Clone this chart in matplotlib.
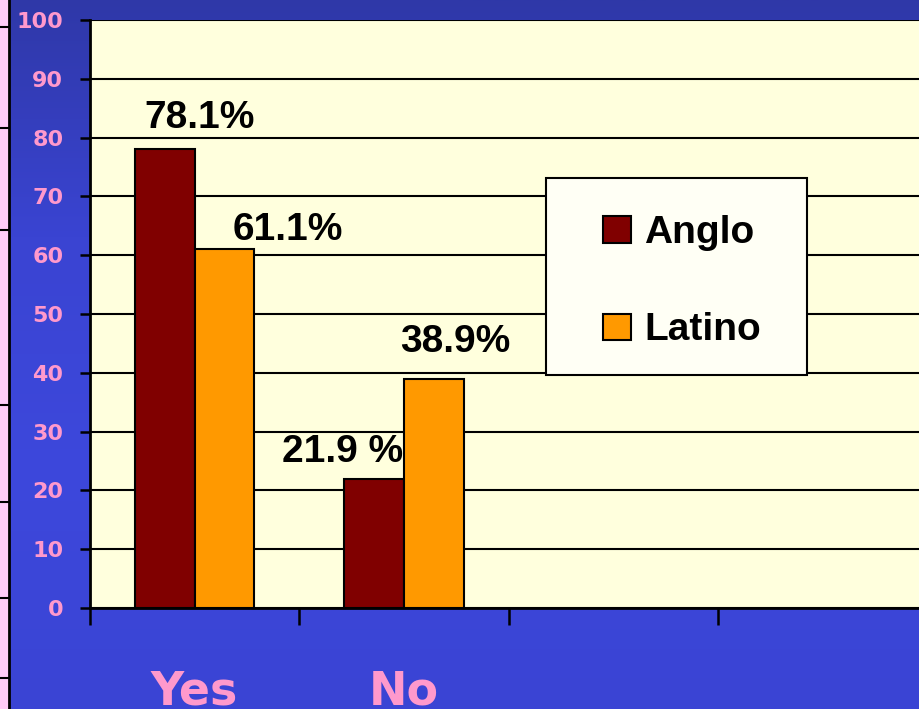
import numpy as np
import matplotlib
matplotlib.use("Agg")
import matplotlib.pyplot as plt
from matplotlib.colors import LinearSegmentedColormap

categories = ["Yes", "No", "", ""]
anglo = [78.1, 21.9, None, None]
latino = [61.1, 38.9, None, None]
anglo_labels = ["78.1%", "21.9 %"]
latino_labels = ["61.1%", "38.9%"]
yticks = list(range(0, 101, 10))

pink = "#FF99CC"
c_anglo = "#800000"
c_latino = "#FF9900"

fig = plt.figure(figsize=(9.19, 7.09), dpi=100)

# blue backdrop
bg = fig.add_axes([0, 0, 1, 1], zorder=-10)
grad = np.linspace(0, 1, 256).reshape(-1, 1)
cmap = LinearSegmentedColormap.from_list("bg", ["#2F38A8", "#3A44D2", "#3D48DC", "#3A44D4"])
bg.imshow(grad, aspect="auto", cmap=cmap, extent=[0, 1, 0, 1], origin="upper")
bg.set_axis_off()

# pink strip at left edge (piece of a neighbouring slide)
fig.patches.append(plt.Rectangle((0, 0), 9 / 919, 1, transform=fig.transFigure,
                                 facecolor="#FFCCF8", edgecolor="none", zorder=-5))
fig.lines.append(plt.Line2D([9 / 919, 9 / 919], [0, 1], transform=fig.transFigure,
                            color="black", lw=2))
for py in [27, 128, 230, 405, 502, 598, 678]:
    yy = 1 - py / 709
    fig.lines.append(plt.Line2D([0, 9 / 919], [yy, yy], transform=fig.transFigure,
                                color="black", lw=1.5))

ax = fig.add_axes([90 / 919, 101 / 709, 837 / 919, 588 / 709])
ax.set_facecolor("#FFFFDD")

x = np.arange(len(categories))
w = 0.285
n_real = 2
b1 = ax.bar(x[:n_real] - w / 2, anglo[:n_real], w, color=c_anglo, edgecolor="black",
            lw=1.5, label="Anglo", zorder=3)
b2 = ax.bar(x[:n_real] + w / 2, latino[:n_real], w, color=c_latino, edgecolor="black",
            lw=1.5, label="Latino", zorder=3)

ax.set_xlim(-0.5, len(categories) - 0.5)
ax.set_ylim(0, 100)
ax.set_yticks(yticks)
ax.set_yticklabels([str(t) for t in yticks], color=pink, fontsize=16, fontweight="bold",
                   family="DejaVu Sans")
ax.set_xticks(x)
ax.set_xticklabels(categories, color=pink, fontsize=33, fontweight="bold",
                   family="DejaVu Sans")
ax.set_xticks(np.arange(len(categories) + 1) - 0.5, minor=True)
ax.tick_params(axis="x", which="major", length=0, pad=44)
ax.tick_params(axis="x", which="minor", length=12, width=1.8, direction="out")
ax.tick_params(axis="y", length=7.2, width=1.8, direction="out", pad=12)
ax.yaxis.grid(True, color="black", lw=1.5, zorder=1)
ax.set_axisbelow(True)
for s in ["top", "right"]:
    ax.spines[s].set_visible(False)
ax.spines["left"].set_linewidth(2)
ax.spines["bottom"].set_linewidth(2)
ax.spines["bottom"].set_zorder(4)

# value labels (pixel offsets from the bar top centre)
a_off = [(35, 21), (-31, 17)]
l_off = [(63, 9), (22, 27)]
lab_font = dict(fontsize=28, fontweight="bold", family="Liberation Sans", color="black",
                ha="center", va="baseline")
for bar, txt, off in zip(b1, anglo_labels, a_off):
    ax.annotate(txt, (bar.get_x() + bar.get_width() / 2, bar.get_height()),
                xytext=off, textcoords="offset pixels", zorder=5, **lab_font)
for bar, txt, off in zip(b2, latino_labels, l_off):
    ax.annotate(txt, (bar.get_x() + bar.get_width() / 2, bar.get_height()),
                xytext=off, textcoords="offset pixels", zorder=5, **lab_font)

# legend box drawn separately so its padding can match
ax.add_patch(plt.Rectangle((0.5448, 0.3963), 0.3118, 0.335, transform=ax.transAxes,
                           facecolor="#FFFFF5", edgecolor="black", lw=1.5, zorder=6,
                           clip_on=False))
leg = ax.legend(loc="center left", bbox_to_anchor=(0.613, 0.555), frameon=False,
                prop=dict(family="Liberation Sans", weight="bold", size=28),
                handlelength=0.72, handleheight=0.67, handletextpad=0.33,
                labelspacing=1.58, borderpad=0, borderaxespad=0)
leg.set_zorder(7)

fig.savefig("out.png", dpi=100)
